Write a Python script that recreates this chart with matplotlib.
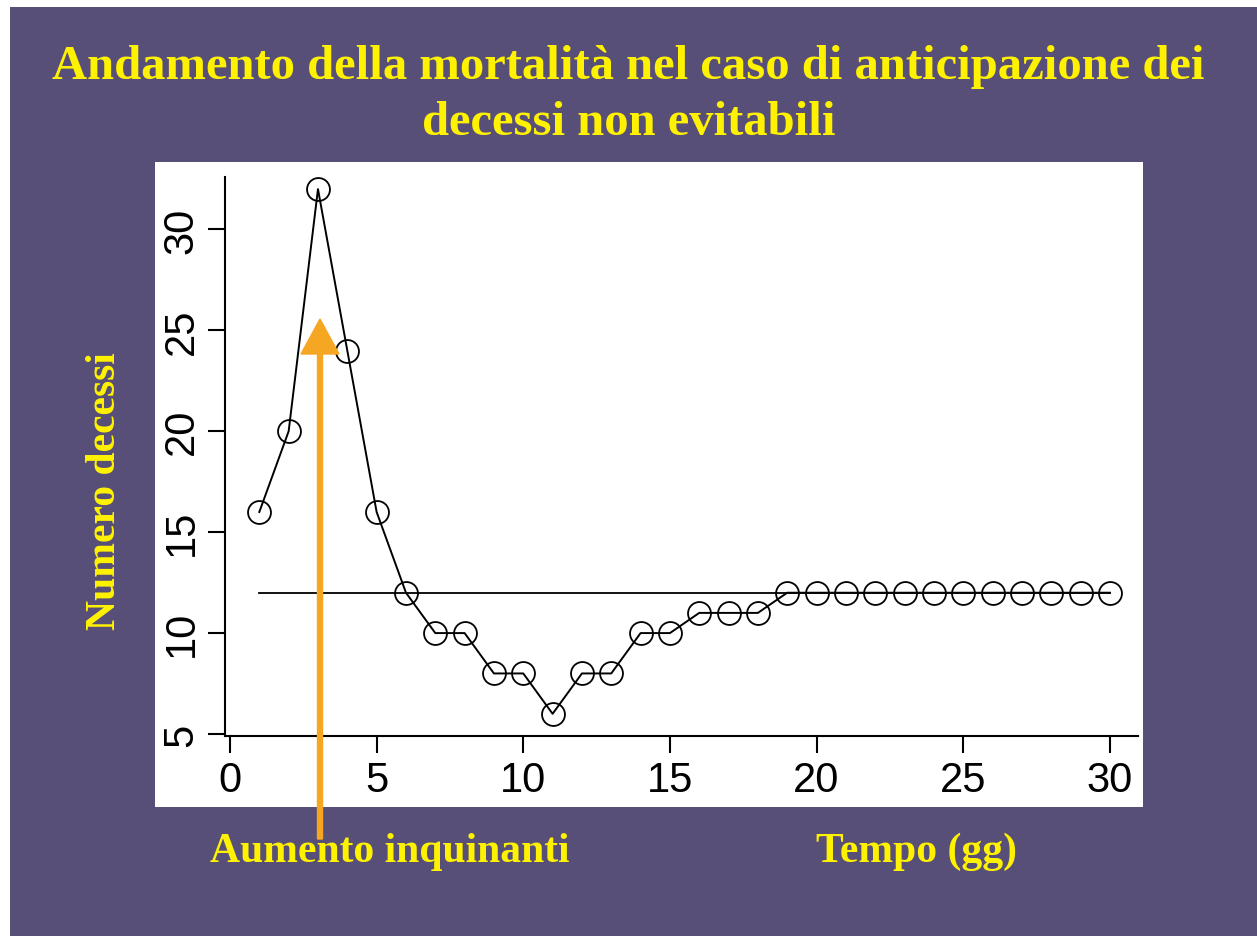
import matplotlib
matplotlib.use("Agg")
import matplotlib.pyplot as plt
from matplotlib.patches import Rectangle, FancyArrow

days = list(range(1, 31))
deaths = [16, 20, 32, 24, 16, 12, 10, 10, 8, 8, 6, 8, 8, 10, 10,
          11, 11, 11, 12, 12, 12, 12, 12, 12, 12, 12, 12, 12, 12, 12]
baseline = 12
x_ticks = [0, 5, 10, 15, 20, 25, 30]
y_ticks = [5, 10, 15, 20, 25, 30]

title = "Andamento della mortalità nel caso di anticipazione dei\ndecessi non evitabili"
y_label = "Numero decessi"
x_label = "Tempo (gg)"
arrow_label = "Aumento inquinanti"

bg = "#574F78"
yellow = "#FFF200"
orange = "#F5A623"
W, H = 1257, 937

fig = plt.figure(figsize=(W / 100, H / 100), dpi=100)
fig.patch.set_facecolor("white")

def fx(px):
    return px / W

def fy(py):
    return 1 - py / H

# purple slide background and white picture panel
fig.add_artist(Rectangle((fx(10), 0), 1 - fx(10), fy(8), transform=fig.transFigure,
                         facecolor=bg, edgecolor="none", zorder=-2))
fig.add_artist(Rectangle((fx(155), fy(808)), fx(1143) - fx(155), fy(163) - fy(808),
                         transform=fig.transFigure, facecolor="white", edgecolor="none", zorder=-1))

ax = fig.add_axes([fx(225), fy(737), fx(1138) - fx(225), fy(178) - fy(737)])
ax.set_zorder(1)
ax.set_facecolor("none")
ax.plot(days, deaths, color="black", linewidth=1.4, marker="o", markersize=16.5,
        markerfacecolor="none", markeredgecolor="black", markeredgewidth=1.3)
ax.plot([days[0], days[-1]], [baseline, baseline], color="black", linewidth=1.3)

ax.set_xlim(-0.17, 30.96)
ax.set_ylim(4.9, 32.6)
ax.set_xticks(x_ticks)
ax.set_yticks(y_ticks)
for s in ["top", "right"]:
    ax.spines[s].set_visible(False)
for s in ["left", "bottom"]:
    ax.spines[s].set_linewidth(1.5)
ax.tick_params(length=12, width=1.5, pad=5, labelsize=30)
ax.set_xticklabels([str(t) for t in x_ticks], family="Liberation Sans")
ax.set_yticklabels([str(t) for t in y_ticks], family="Liberation Sans",
                   rotation=90, va="center")

fig.text(0.5, fy(95), title, ha="center", va="center", color=yellow,
         fontsize=35, fontweight="bold", family="Liberation Serif", linespacing=1.36)
fig.text(fx(105), fy(491), y_label, ha="center", va="center", rotation=90,
         color=yellow, fontsize=30, fontweight="bold", family="Liberation Serif")
fig.text(fx(390), fy(852), arrow_label, ha="center", va="center",
         color=yellow, fontsize=30, fontweight="bold", family="Liberation Serif")
fig.text(fx(916), fy(852), x_label, ha="center", va="center",
         color=yellow, fontsize=30, fontweight="bold", family="Liberation Serif")

fig.add_artist(FancyArrow(fx(320), fy(840), 0, fy(320) - fy(840), width=fx(5),
                          head_width=fx(38), head_length=fy(320) - fy(355),
                          length_includes_head=True, transform=fig.transFigure,
                          color=orange, zorder=5))

fig.savefig("out.png", dpi=100, facecolor=fig.get_facecolor())
